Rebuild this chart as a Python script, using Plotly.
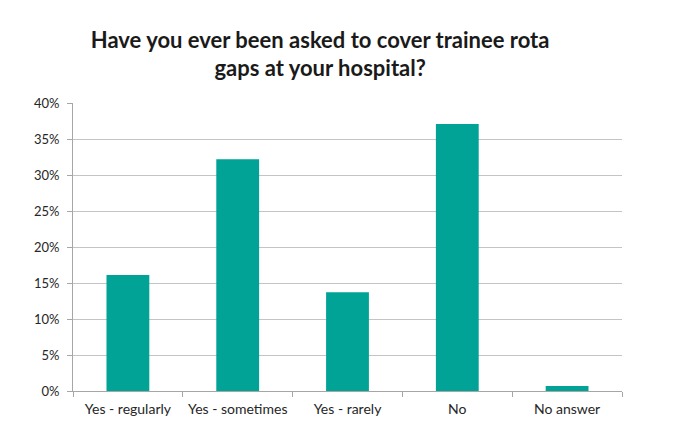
import plotly.graph_objects as go

categories = ["Yes - regularly", "Yes - sometimes", "Yes - rarely", "No", "No answer"]
shares = [0.161, 0.322, 0.137, 0.371, 0.007]
y_ticks = [0, 0.05, 0.10, 0.15, 0.20, 0.25, 0.30, 0.35, 0.40]

fig = go.Figure()
fig.add_trace(
    go.Bar(
        x=categories,
        y=shares,
        marker=dict(color="#00A396", line=dict(width=0)),
        width=0.39,
    )
)

# page body has an 8px default margin, so margins are shifted to compensate
fig.update_layout(
    width=680,
    height=441,
    margin=dict(l=65, r=66, t=95, b=58),
    paper_bgcolor="white",
    plot_bgcolor="white",
    showlegend=False,
    font=dict(family="Lato, Open Sans, sans-serif", size=12, color="#333333"),
    title=dict(
        text="<b>Have you ever been asked to cover trainee rota<br>gaps at your hospital?</b>",
        x=0.459,
        xanchor="center",
        y=0.91,
        yanchor="top",
        font=dict(family="Lato, Open Sans, sans-serif", size=22, color="#1a1a1a"),
    ),
)
fig.update_xaxes(
    showline=True,
    linecolor="#a6a6a6",
    ticks="outside",
    tickson="boundaries",
    ticklen=5,
    tickcolor="#a6a6a6",
    showgrid=False,
    ticklabelstandoff=5,
    tickfont=dict(size=14, color="#262626"),
)
fig.update_yaxes(
    range=[0, 0.40],
    tickvals=y_ticks,
    tickformat=".0%",
    showline=True,
    linecolor="#a6a6a6",
    ticks="outside",
    ticklen=5,
    tickcolor="#a6a6a6",
    gridcolor="#c4c4c4",
    gridwidth=1,
    zeroline=False,
    ticklabelstandoff=5,
    tickfont=dict(size=13, color="#262626"),
)

fig.write_html("out.html")
